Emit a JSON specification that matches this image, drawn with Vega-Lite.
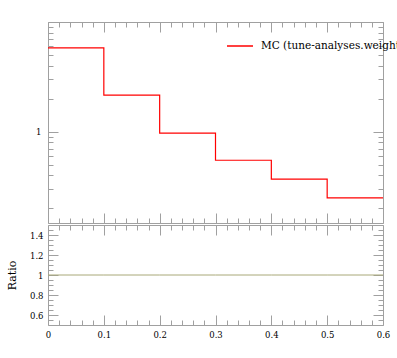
{
  "$schema": "https://vega.github.io/schema/vega-lite/v6.json",
  "autosize": {"type": "pad"},
  "padding": {"left": 5, "top": 21, "right": 0, "bottom": 0},
  "background": "white",
  "config": {
    "view": {"stroke": "#a0a0a0", "strokeWidth": 1},
    "axis": {"domain": false, "grid": false, "labelFlush": false, "labelOverlap": false, "tickColor": "#a0a0a0", "tickWidth": 1, "labelFont": "DejaVu Serif", "labelFontSize": 8.5, "labelColor": "black", "titleFont": "DejaVu Serif", "titleFontSize": 11, "titleFontWeight": "normal", "titleColor": "black"},
    "legend": {"labelFont": "DejaVu Serif", "labelFontSize": 10.5, "labelColor": "black"}
  },
  "data": {"values": [
    {"x": 0.0, "y": 5.8, "ratio": 1},
    {"x": 0.1, "y": 2.15, "ratio": 1},
    {"x": 0.2, "y": 0.97, "ratio": 1},
    {"x": 0.3, "y": 0.548, "ratio": 1},
    {"x": 0.4, "y": 0.368, "ratio": 1},
    {"x": 0.5, "y": 0.249, "ratio": 1},
    {"x": 0.6, "y": 0.249, "ratio": 1}
  ]},
  "spacing": 0,
  "vconcat": [
    {
      "width": 335, "height": 201,
      "resolve": {"axis": {"x": "independent", "y": "independent"}},
      "layer": [
        {
          "mark": {"type": "line", "interpolate": "step-after", "strokeWidth": 1.2},
          "encoding": {
            "x": {"field": "x", "type": "quantitative", "scale": {"domain": [0, 0.6], "nice": false, "zero": false}, "axis": {"orient": "bottom", "values": [0, 0.1, 0.2, 0.3, 0.4, 0.5, 0.6], "labels": false, "tickSize": -10, "title": null}},
            "y": {"field": "y", "type": "quantitative", "scale": {"type": "log", "domain": [0.1466, 10], "nice": false}, "axis": {"orient": "left", "values": [1, 10], "labels": false, "tickSize": -10, "title": null}},
            "color": {"datum": "MC (tune-analyses.weights)", "scale": {"range": ["#ff0000"]}, "legend": {"title": null, "orient": "none", "legendX": 178, "legendY": 10, "symbolType": "stroke", "symbolSize": 676, "symbolStrokeWidth": 1.5, "labelLimit": 0, "labelOffset": 7}}
          }
        },
        {
          "mark": {"type": "line", "opacity": 0},
          "encoding": {
            "x": {"field": "x", "type": "quantitative", "scale": {"domain": [0, 0.6], "nice": false, "zero": false}, "axis": {"orient": "bottom", "values": [0.02, 0.04, 0.06, 0.08, 0.12, 0.14, 0.16, 0.18, 0.22, 0.24, 0.26, 0.28, 0.32, 0.34, 0.36, 0.38, 0.42, 0.44, 0.46, 0.48, 0.52, 0.54, 0.56, 0.58], "labels": false, "tickSize": -5, "title": null}},
            "y": {"field": "y", "type": "quantitative", "scale": {"type": "log", "domain": [0.1466, 10], "nice": false}, "axis": {"orient": "left", "values": [0.2, 0.3, 0.4, 0.5, 0.6, 0.7, 0.8, 0.9, 2, 3, 4, 5, 6, 7, 8, 9], "labels": false, "tickSize": -5, "title": null}}
          }
        },
        {
          "mark": {"type": "line", "opacity": 0},
          "encoding": {
            "x": {"field": "x", "type": "quantitative", "scale": {"domain": [0, 0.6], "nice": false, "zero": false}, "axis": {"orient": "top", "values": [0, 0.1, 0.2, 0.3, 0.4, 0.5, 0.6], "labels": false, "tickSize": -10, "title": null}},
            "y": {"field": "y", "type": "quantitative", "scale": {"type": "log", "domain": [0.1466, 10], "nice": false}, "axis": {"orient": "right", "values": [1, 10], "labels": false, "tickSize": -10, "title": null}}
          }
        },
        {
          "mark": {"type": "line", "opacity": 0},
          "encoding": {
            "x": {"field": "x", "type": "quantitative", "scale": {"domain": [0, 0.6], "nice": false, "zero": false}, "axis": {"orient": "top", "values": [0.02, 0.04, 0.06, 0.08, 0.12, 0.14, 0.16, 0.18, 0.22, 0.24, 0.26, 0.28, 0.32, 0.34, 0.36, 0.38, 0.42, 0.44, 0.46, 0.48, 0.52, 0.54, 0.56, 0.58], "labels": false, "tickSize": -5, "title": null}},
            "y": {"field": "y", "type": "quantitative", "scale": {"type": "log", "domain": [0.1466, 10], "nice": false}, "axis": {"orient": "right", "values": [0.2, 0.3, 0.4, 0.5, 0.6, 0.7, 0.8, 0.9, 2, 3, 4, 5, 6, 7, 8, 9], "labels": false, "tickSize": -5, "title": null}}
          }
        },
        {
          "mark": {"type": "line", "opacity": 0},
          "encoding": {
            "x": {"field": "x", "type": "quantitative", "scale": {"domain": [0, 0.6], "nice": false, "zero": false}, "axis": null},
            "y": {"field": "y", "type": "quantitative", "scale": {"type": "log", "domain": [0.1466, 10], "nice": false}, "axis": {"orient": "left", "values": [1], "ticks": false, "labelPadding": 7, "format": "~g", "title": null}}
          }
        }
      ]
    },
    {
      "width": 335, "height": 100,
      "resolve": {"axis": {"x": "independent", "y": "independent"}},
      "layer": [
        {
          "mark": {"type": "line", "interpolate": "step-after", "strokeWidth": 1, "color": "#a8a878"},
          "encoding": {
            "x": {"field": "x", "type": "quantitative", "scale": {"domain": [0, 0.6], "nice": false, "zero": false}, "axis": {"orient": "bottom", "values": [0, 0.1, 0.2, 0.3, 0.4, 0.5, 0.6], "labels": false, "tickSize": -10, "title": null}},
            "y": {"field": "ratio", "type": "quantitative", "scale": {"domain": [0.5, 1.5], "nice": false, "zero": false}, "axis": {"orient": "left", "values": [0.6, 0.8, 1, 1.2, 1.4], "labels": false, "tickSize": -10, "title": null}}
          }
        },
        {
          "mark": {"type": "line", "opacity": 0},
          "encoding": {
            "x": {"field": "x", "type": "quantitative", "scale": {"domain": [0, 0.6], "nice": false, "zero": false}, "axis": {"orient": "bottom", "values": [0.02, 0.04, 0.06, 0.08, 0.12, 0.14, 0.16, 0.18, 0.22, 0.24, 0.26, 0.28, 0.32, 0.34, 0.36, 0.38, 0.42, 0.44, 0.46, 0.48, 0.52, 0.54, 0.56, 0.58], "labels": false, "tickSize": -5, "title": null}},
            "y": {"field": "ratio", "type": "quantitative", "scale": {"domain": [0.5, 1.5], "nice": false, "zero": false}, "axis": {"orient": "left", "values": [0.55, 0.65, 0.7, 0.75, 0.85, 0.9, 0.95, 1.05, 1.1, 1.15, 1.25, 1.3, 1.35, 1.45], "labels": false, "tickSize": -5, "title": null}}
          }
        },
        {
          "mark": {"type": "line", "opacity": 0},
          "encoding": {
            "x": {"field": "x", "type": "quantitative", "scale": {"domain": [0, 0.6], "nice": false, "zero": false}, "axis": {"orient": "top", "values": [0, 0.1, 0.2, 0.3, 0.4, 0.5, 0.6], "labels": false, "tickSize": -10, "title": null}},
            "y": {"field": "ratio", "type": "quantitative", "scale": {"domain": [0.5, 1.5], "nice": false, "zero": false}, "axis": {"orient": "right", "values": [0.6, 0.8, 1, 1.2, 1.4], "labels": false, "tickSize": -10, "title": null}}
          }
        },
        {
          "mark": {"type": "line", "opacity": 0},
          "encoding": {
            "x": {"field": "x", "type": "quantitative", "scale": {"domain": [0, 0.6], "nice": false, "zero": false}, "axis": {"orient": "top", "values": [0.02, 0.04, 0.06, 0.08, 0.12, 0.14, 0.16, 0.18, 0.22, 0.24, 0.26, 0.28, 0.32, 0.34, 0.36, 0.38, 0.42, 0.44, 0.46, 0.48, 0.52, 0.54, 0.56, 0.58], "labels": false, "tickSize": -5, "title": null}},
            "y": {"field": "ratio", "type": "quantitative", "scale": {"domain": [0.5, 1.5], "nice": false, "zero": false}, "axis": {"orient": "right", "values": [0.55, 0.65, 0.7, 0.75, 0.85, 0.9, 0.95, 1.05, 1.1, 1.15, 1.25, 1.3, 1.35, 1.45], "labels": false, "tickSize": -5, "title": null}}
          }
        },
        {
          "mark": {"type": "line", "opacity": 0},
          "encoding": {
            "x": {"field": "x", "type": "quantitative", "scale": {"domain": [0, 0.6], "nice": false, "zero": false}, "axis": {"orient": "bottom", "values": [0, 0.1, 0.2, 0.3, 0.4, 0.5, 0.6], "ticks": false, "labelPadding": 5, "format": "~g", "title": null}},
            "y": {"field": "ratio", "type": "quantitative", "scale": {"domain": [0.5, 1.5], "nice": false, "zero": false}, "axis": {"orient": "left", "values": [0.6, 0.8, 1, 1.2, 1.4], "ticks": false, "labelPadding": 5, "format": "~g", "title": "Ratio", "titlePadding": 12}}
          }
        }
      ]
    }
  ]
}
